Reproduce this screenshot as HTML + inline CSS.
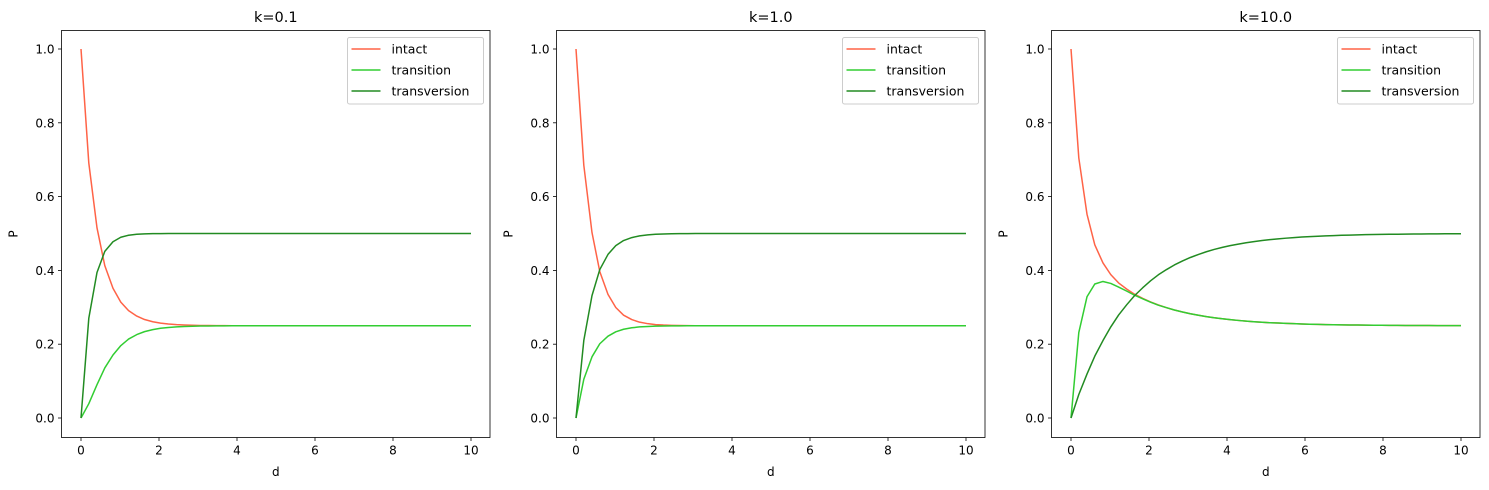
<!DOCTYPE html>
<html><head><meta charset="utf-8"><style>
body{margin:0;background:#fff;}
svg{display:block;font-family:"DejaVu Sans","Liberation Sans",sans-serif;}
</style></head><body>
<svg id="chart" width="1489" height="490" viewBox="0 0 1489 490"></svg>
<script>
const dValues=[0,0.2,0.41,0.61,0.82,1.02,1.22,1.43,1.63,1.84,2.04,2.24,2.45,2.65,2.86,3.06,3.27,3.47,3.67,3.88,4.08,4.29,4.49,4.69,4.9,5.1,5.31,5.51,5.71,5.92,6.12,6.33,6.53,6.73,6.94,7.14,7.35,7.55,7.76,7.96,8.16,8.37,8.57,8.78,8.98,9.18,9.39,9.59,9.8,10];
const panelTitles=["k=0.1","k=1.0","k=10.0"];
const seriesNames=["intact","transition","transversion"];
const xTicks=[0,2,4,6,8,10];
const yTicks=[0,0.2,0.4,0.6,0.8,1.0];
const yTickLabels=["0.0","0.2","0.4","0.6","0.8","1.0"];
const k01Intact=[1,.691,.5154,.413,.3516,.3141,.2909,.2762,.2669,.2609,.2571,.2546,.253,.252,.2513,.2508,.2506,.2504,.2503,.25,.25,.25,.25,.25,.25,.25,.25,.25,.25,.25,.25,.25,.25,.25,.25,.25,.25,.25,.25,.25,.25,.25,.25,.25,.25,.25,.25,.25,.25,.25];
const k01Transition=[0,.0388,.0902,.1356,.1708,.1961,.2139,.226,.2341,.2395,.2431,.2454,.247,.248,.2487,.2492,.2494,.2496,.2497,.25,.25,.25,.25,.25,.25,.25,.25,.25,.25,.25,.25,.25,.25,.25,.25,.25,.25,.25,.25,.25,.25,.25,.25,.25,.25,.25,.25,.25,.25,.25];
const k01Transversion=[0,.2702,.3944,.4515,.4777,.4898,.4953,.4979,.499,.4996,.4998,.4999,.5,.5,.5,.5,.5,.5,.5,.5,.5,.5,.5,.5,.5,.5,.5,.5,.5,.5,.5,.5,.5,.5,.5,.5,.5,.5,.5,.5,.5,.5,.5,.5,.5,.5,.5,.5,.5,.5];
const k1Intact=[1,.6852,.5026,.3966,.3351,.2994,.2787,.2667,.2597,.2556,.2532,.2519,.2511,.2507,.2504,.25,.25,.25,.25,.25,.25,.25,.25,.25,.25,.25,.25,.25,.25,.25,.25,.25,.25,.25,.25,.25,.25,.25,.25,.25,.25,.25,.25,.25,.25,.25,.25,.25,.25,.25];
const k1Transition=[0,.1049,.1658,.2012,.2217,.2336,.2405,.2445,.2468,.2481,.2489,.2494,.2496,.2498,.2499,.25,.25,.25,.25,.25,.25,.25,.25,.25,.25,.25,.25,.25,.25,.25,.25,.25,.25,.25,.25,.25,.25,.25,.25,.25,.25,.25,.25,.25,.25,.25,.25,.25,.25,.25];
const k1Transversion=[0,.2099,.3316,.4023,.4433,.4671,.4809,.4889,.4936,.4963,.4979,.4988,.4993,.4996,.4998,.5,.5,.5,.5,.5,.5,.5,.5,.5,.5,.5,.5,.5,.5,.5,.5,.5,.5,.5,.5,.5,.5,.5,.5,.5,.5,.5,.5,.5,.5,.5,.5,.5,.5,.5];
const k10Intact=[1,.7048,.5525,.4692,.4202,.3885,.3661,.3492,.3355,.3241,.3145,.3062,.2989,.2927,.2872,.2825,.2784,.2748,.2716,.2689,.2665,.2644,.2625,.261,.2596,.2583,.2573,.2564,.2556,.2548,.2542,.2537,.2532,.2528,.2525,.2522,.2519,.2516,.2514,.2513,.2511,.251,.2508,.2507,.2506,.2506,.2505,.2504,.2504,.2503];
const k10Transition=[0,.2316,.3285,.3632,.37,.3647,.3549,.3438,.3329,.3229,.3139,.3058,.2989,.2927,.2872,.2825,.2784,.2748,.2716,.2689,.2665,.2644,.2625,.261,.2596,.2583,.2573,.2564,.2556,.2548,.2542,.2537,.2532,.2528,.2525,.2522,.2519,.2516,.2514,.2513,.2511,.251,.2508,.2507,.2506,.2506,.2505,.2504,.2504,.2503];
const k10Transversion=[0,.0636,.1191,.1676,.2099,.2468,.279,.3071,.3316,.353,.3717,.3881,.4023,.4147,.4256,.435,.4433,.4505,.4568,.4623,.4671,.4713,.475,.4781,.4809,.4834,.4855,.4873,.4889,.4904,.4916,.4927,.4936,.4944,.4951,.4957,.4963,.4968,.4972,.4975,.4979,.4981,.4984,.4986,.4988,.4989,.4991,.4992,.4993,.4994];

const panelData=[[k01Intact,k01Transition,k01Transversion],[k1Intact,k1Transition,k1Transversion],[k10Intact,k10Transition,k10Transversion]];
const colors=["#ff6347","#32cd32","#228b22"];
const NS="http://www.w3.org/2000/svg";
const svg=document.getElementById('chart');
function mk(tag,attrs,parent){const e=document.createElementNS(NS,tag);for(const k in attrs)e.setAttribute(k,attrs[k]);parent.appendChild(e);return e;}
const boxLefts=[61.5,556.5,1051.5];
const boxW=428.5, boxTop=30.5, boxBot=437.5;
for(let p=0;p<3;p++){
  const L=boxLefts[p];
  const g=mk('g',{},svg);
  
  
  const xs=v=>L+19.5+v*39;
  const ys=v=>418-v*369;
  // ticks
  xTicks.forEach(t=>{
    const x=xs(t);
    const tl=mk('line',{x1:x,x2:x,y1:boxBot,y2:boxBot+3.5,stroke:'#000','stroke-width':0.8},g);
    
    const tx=mk('text',{x:x,y:boxBot+17,'text-anchor':'middle','font-size':'12px',fill:'#000'},g);
    
    tx.textContent=String(t);
  });
  yTicks.forEach((t,i)=>{
    const y=ys(t);
    const tl=mk('line',{x1:L-3.5,x2:L,y1:y,y2:y,stroke:'#000','stroke-width':0.8},g);
    
    const tx=mk('text',{x:L-7,y:y+4.5,'text-anchor':'end','font-size':'12px',fill:'#000'},g);
    
    tx.textContent=yTickLabels[i];
  });
  // series
  panelData[p].forEach((arr,si)=>{
    const pts=arr.map((v,i)=>xs(dValues[i]).toFixed(2)+','+ys(v).toFixed(2)).join(' ');
    const pl=mk('polyline',{points:pts,fill:'none',stroke:colors[si],'stroke-width':1.5,'stroke-linejoin':'round'},g);
    
    
  });
  const box=mk('rect',{x:L,y:boxTop,width:boxW,height:boxBot-boxTop,fill:'none',stroke:'#000','stroke-width':0.8},g);
  
  const title=mk('text',{x:L+boxW/2,y:22,'text-anchor':'middle','font-size':'14.5px',fill:'#000'},g);
  
  title.textContent=panelTitles[p];
  const xl=mk('text',{x:L+boxW/2,y:476,'text-anchor':'middle','font-size':'12px',fill:'#000'},g);
  
  xl.textContent='d';
  const yl=mk('text',{x:0,y:0,'text-anchor':'middle','font-size':'12px',fill:'#000',transform:`translate(${L-44},${234}) rotate(-90)`},g);
  
  yl.textContent='P';
  // legend
  const lg=mk('g',{},g);
  
  const lx=L+286;
  mk('rect',{x:lx,y:37.5,width:136,height:66.5,rx:2,fill:'#fff','fill-opacity':0.8,stroke:'#ccc','stroke-width':1},lg);
  seriesNames.forEach((n,si)=>{
    const y=49+si*21;
    const e=mk('g',{},lg);
    
    mk('line',{x1:lx+4,x2:lx+33,y1:y,y2:y,stroke:colors[si],'stroke-width':1.5},e);
    const t=mk('text',{x:lx+44,y:y+4.5,'font-size':'12.5px',fill:'#000'},e);
    t.textContent=n;
  });
}
</script>
</body></html>
